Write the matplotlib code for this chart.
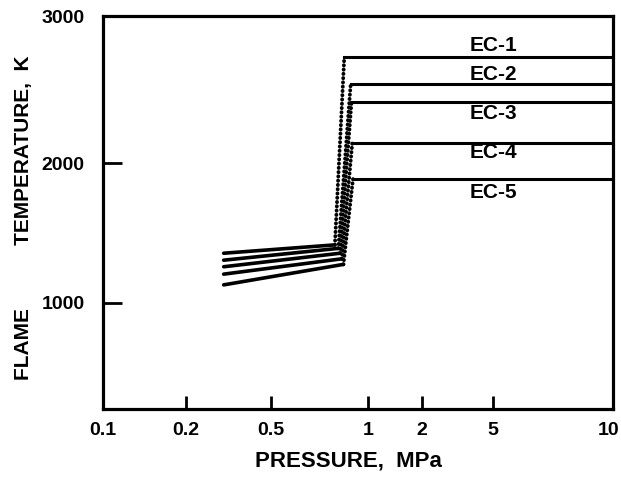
import numpy as np
import matplotlib
matplotlib.use("Agg")
import matplotlib.pyplot as plt
import matplotlib.transforms as mtransforms
from matplotlib.ticker import FixedLocator, NullLocator

plt.rcParams["font.family"] = ["Liberation Sans", "DejaVu Sans"]
plt.rcParams["font.weight"] = "bold"

# --- data ------------------------------------------------------------------
CASES = ["EC-1", "EC-2", "EC-3", "EC-4", "EC-5"]
P_START = 0.30                                   # MPa, start of low-pressure branch
P_BEND = [0.79, 0.81, 0.82, 0.83, 0.84]          # end of low-pressure branch
P_JUMP = [0.845, 0.885, 0.89, 0.895, 0.90]       # start of high-pressure plateau
P_END = 10.0
T_START = [1355, 1305, 1258, 1205, 1128]         # K at P_START
T_BEND = [1415, 1390, 1355, 1315, 1275]          # K at P_BEND
T_HIGH = [2720, 2540, 2415, 2135, 1890]          # K plateau
LABEL_P = 5.0
LABEL_T = [2800, 2600, 2340, 2070, 1790]

X_TICKS = [0.1, 0.2, 0.5, 1, 2, 5, 10]
X_TICKLABELS = ["0.1", "0.2", "0.5", "1", "2", "5", "10"]
Y_TICKS = [1000, 2000, 3000]

# the printed axes are not evenly graduated: where each tick sits along
# the axis (fraction of axis length), extended linearly past the ends
XWARP_LOG = [-6, -1, np.log10(0.2), np.log10(0.5), 0, np.log10(2), np.log10(5), 1, 6]
XWARP_FRAC = [-10, 0.0, 0.163, 0.330, 0.519, 0.625, 0.765, 1.0, 10]
YWARP_T = [-1e4, 235, 1000, 2000, 3000, 1e4]
YWARP_FRAC = [-3.628, 0.0, 0.271, 0.6255, 1.0, 3.62]


def _xfwd(x):
    x = np.clip(np.asarray(x, dtype=float), 1e-9, None)
    return np.interp(np.log10(x), XWARP_LOG, XWARP_FRAC)


def _xinv(f):
    return 10 ** np.interp(np.asarray(f, dtype=float), XWARP_FRAC, XWARP_LOG)


def _yfwd(t):
    return np.interp(np.asarray(t, dtype=float), YWARP_T, YWARP_FRAC)


def _yinv(f):
    return np.interp(np.asarray(f, dtype=float), YWARP_FRAC, YWARP_T)


fig = plt.figure(figsize=(6.21, 4.78), dpi=100)
ax = fig.add_axes([0.1654, 0.1437, 0.8222, 0.8228])
ax.set_xscale("function", functions=(_xfwd, _xinv))
ax.set_yscale("function", functions=(_yfwd, _yinv))

for i, name in enumerate(CASES):
    # low-pressure branch
    ax.plot([P_START, P_BEND[i]], [T_START[i], T_BEND[i]],
            color="black", lw=2.6, solid_capstyle="round")
    # transition (dotted)
    ax.plot([P_BEND[i], P_JUMP[i]], [T_BEND[i], T_HIGH[i]],
            color="black", lw=2.8, linestyle=(0, (0.05, 1.05)),
            dash_capstyle="round")
    # high-pressure plateau
    ax.plot([P_JUMP[i], P_END], [T_HIGH[i], T_HIGH[i]],
            color="black", lw=2.2)
    ax.text(LABEL_P, LABEL_T[i], name, ha="center", va="center",
            fontsize=15, fontweight="bold")

ax.set_xlim(0.1, 10)
ax.set_ylim(235, 3000)
ax.xaxis.set_major_locator(FixedLocator(X_TICKS))
ax.xaxis.set_minor_locator(NullLocator())
ax.set_xticklabels(X_TICKLABELS)
ax.yaxis.set_major_locator(FixedLocator(Y_TICKS))
ax.yaxis.set_minor_locator(NullLocator())
ax.set_yticklabels([str(v) for v in Y_TICKS])

for s in ax.spines.values():
    s.set_linewidth(2.3)
ax.tick_params(axis="x", direction="in", length=9.5, width=2, pad=9,
               labelsize=14)
ax.tick_params(axis="y", direction="in", length=14, width=2, pad=13,
               labelsize=14)
for lab in ax.get_xticklabels() + ax.get_yticklabels():
    lab.set_fontweight("bold")
# last pressure label sits a little inside the figure edge
last = ax.get_xticklabels()[-1]
last.set_transform(last.get_transform()
                   + mtransforms.ScaledTranslation(-0.05, 0, fig.dpi_scale_trans))

ax.set_xlabel("PRESSURE,  MPa", fontsize=16, fontweight="bold")
ax.xaxis.set_label_coords(0.482, -0.105)
ax.set_ylabel("FLAME" + " " * 11 + "TEMPERATURE,  K", fontsize=15,
              fontweight="bold")
ax.yaxis.set_label_coords(-0.137, 0.488)

fig.savefig("out.png", dpi=100)
plt.close(fig)
